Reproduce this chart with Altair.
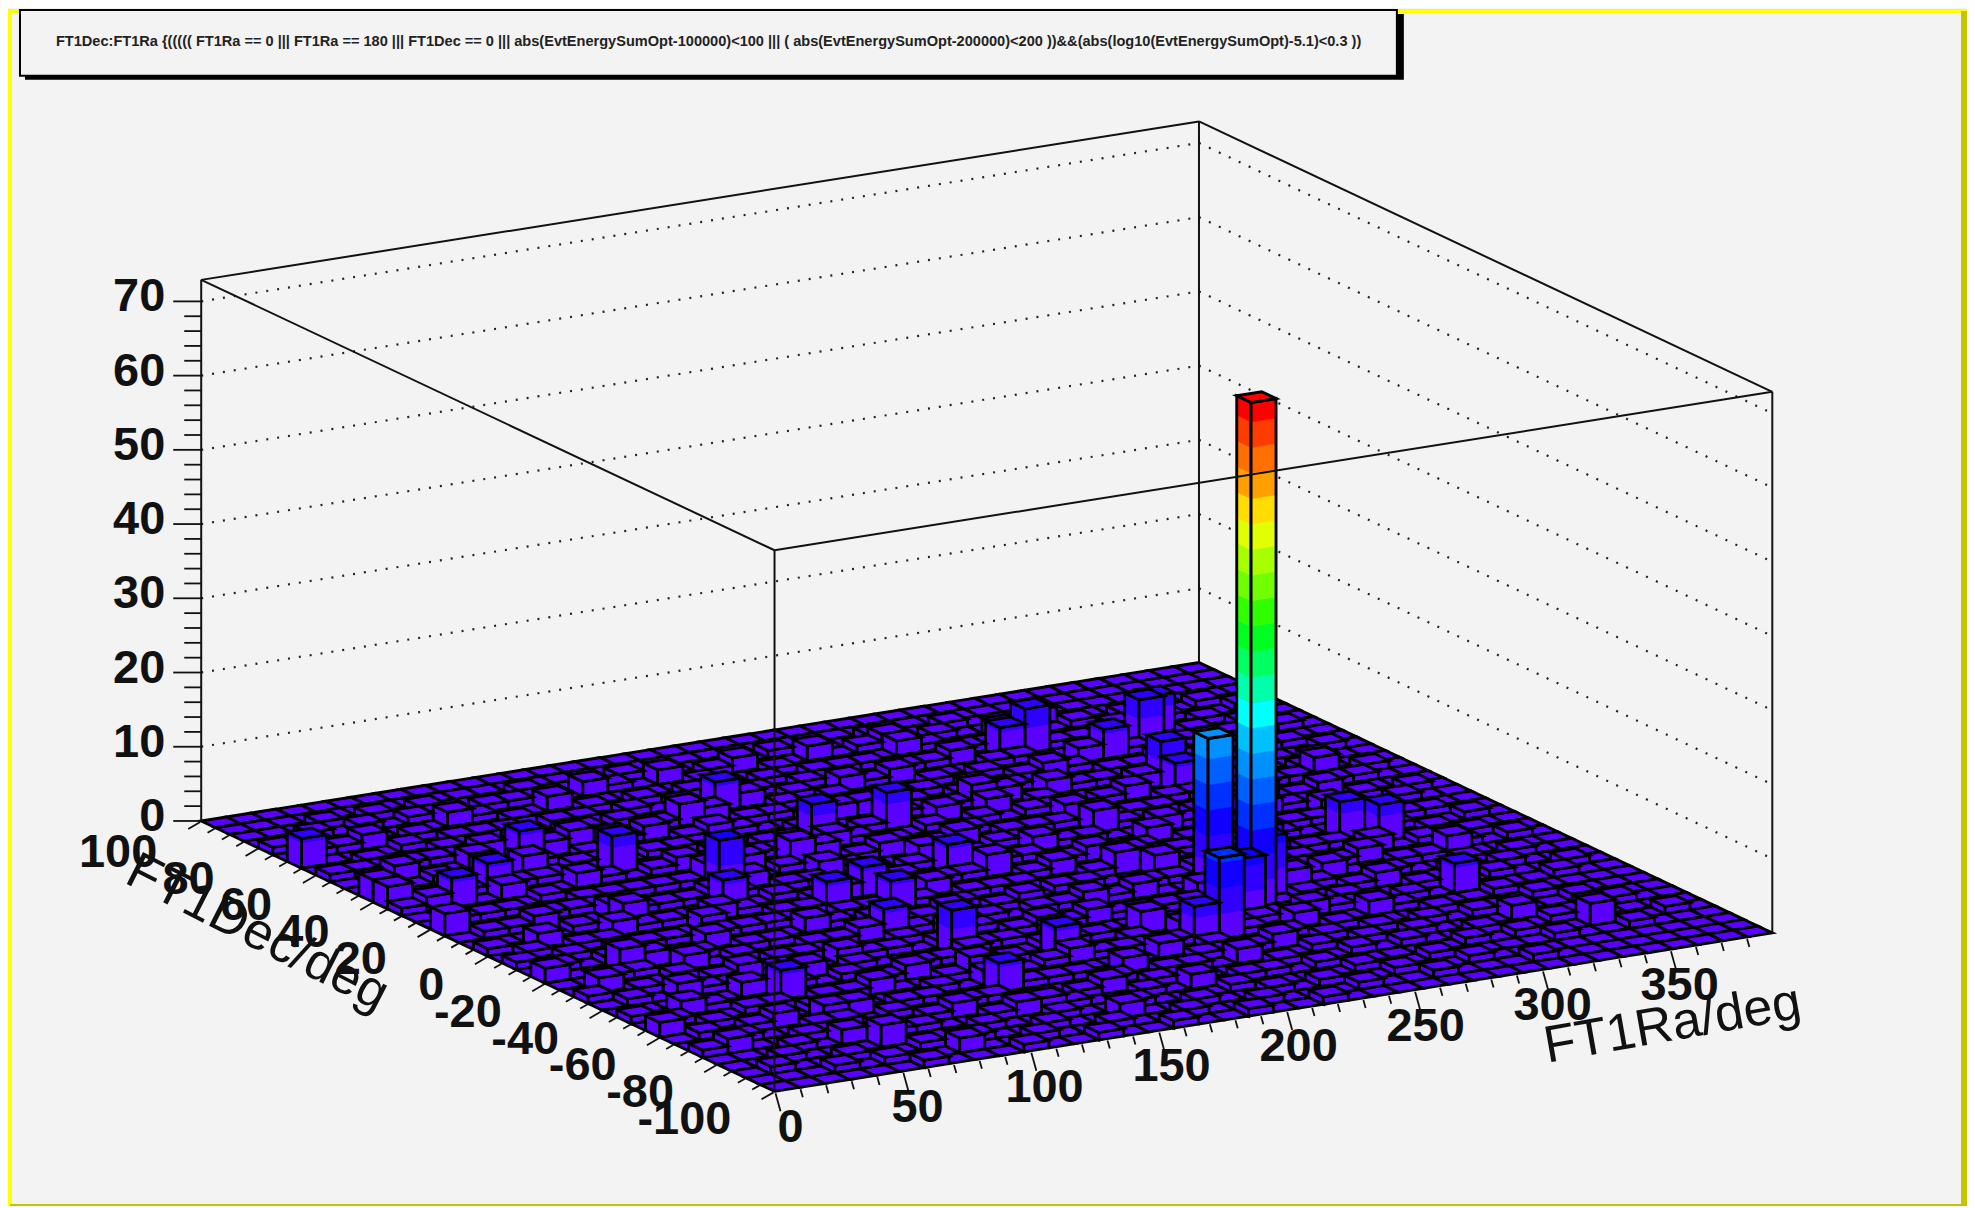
import altair as alt

W, H = 1962, 1199
BG = "#f3f3f3"
OFF = 8

# Histogram: FT1Ra on 0..390 in 40 bins, FT1Dec on -100..100 in 40 bins, counts.
RA_MAX = 390.0
DEC_MIN, DEC_MAX = -100.0, 100.0
NBINS = 40
Z_MAX = 72.9
Z_BAND = 3.44
PALETTE = ["#5a00ff", "#3000ff", "#1000ff", "#0030ff", "#0060ff", "#0090ff", "#00c0ff",
           "#00ffff", "#00ffaa", "#00ff60", "#00ff20", "#30ff00", "#70ff00", "#a8ff00",
           "#e0ff00", "#ffdd00", "#ffa000", "#ff7000", "#ff3c00", "#ff0000"]

# Low counts per Ra bin (row) and Dec bin (character)
LOW_ROWS = [
    "0000010020100100201010020010200102010000",
    "0010020101001020010100101020010100100000",
    "0001001010200101001020101001002010101000",
    "0100100100102001010100201001010100200100",
    "0010010201001010200101010020100101001000",
    "0100201001020101001020010101002010100100",
    "1001001010100200101010201001010201001000",
    "0010100201010101020010101020010101020100",
    "0200101001002010101200101010102001010000",
    "0010010102010010101020101002010100101000",
    "1001020100101201001010201010010201001000",
    "0100101010200101020100101020101001020100",
    "0010201001010102010101020010102010100000",
    "1001010120010010201010100201010101002000",
    "0100100101020101001020101010020100101000",
    "0020010100101020101010020101010201000100",
    "1001020101001010201001010201001010102000",
    "0100101002010101010201001020101020010000",
    "0010010201010200101010102010010101001000",
    "1000201001010101201010020101020010102000",
    "0101001020100201001020101001020101010000",
    "0010100101010102010101002010101020100100",
    "1000102010200101010201010102010010102000",
    "0010010101010102001010201010101020100000",
    "0100100201020100101020101002010101001000",
    "0001001010101020101200101010201001020100",
    "0010010102001010201010010201010102010000",
    "0100001010200101010102010100201010101000",
    "0001010100101020101010201010102010100100",
    "0010001002010101002010101020101001020000",
    "0000100101001020101020010102010201010000",
    "0100010010102001010101020101010101002000",
    "0000100100010102010010201010020101010000",
    "0001000100100010201010102010101020100000",
    "0000010001001010010102010101010102010000",
    "0000100010010100101001020100101010100000",
    "0001000100001001010100101010010101000000",
    "0000001000100100100101001001010010010000",
    "0000100000010001001000100100100100100000",
    "0000000000000000000000000000000000000000",
]

# Taller bins: Ra bin, Dec bin, count
TALL_RA = [26, 26, 23, 25, 22, 27, 28, 29, 28, 33, 34, 31, 31, 36, 33, 34, 17, 21, 26, 31, 16, 17, 20,
           24, 11, 9, 14, 11, 6, 19, 20, 15, 13, 15, 13, 10, 14, 25, 15, 0, 0, 0, 2, 4, 6, 7, 9, 10,
           3, 0, 5, 6, 6, 6, 13, 13, 13, 33, 35, 33, 28, 25, 24, 35]
TALL_DEC = [12, 15, 9, 11, 9, 13, 15, 33, 33, 32, 33, 27, 26, 25, 18, 17, 10, 11, 23, 31, 32, 27, 27,
            28, 23, 27, 12, 24, 21, 21, 20, 20, 19, 18, 15, 21, 31, 36, 25, 33, 27, 28, 26, 27, 28, 30, 30, 29,
            16, 23, 15, 10, 7, 3, 7, 4, 9, 10, 4, 6, 13, 17, 18, 14]
TALL_N = [68, 20, 11, 8, 5, 8, 7, 6, 4, 6, 5, 6, 4, 3, 5, 5, 4, 3, 3, 4, 4, 5, 5,
          3, 7, 5, 6, 3, 3, 4, 3, 4, 4, 4, 4, 4, 3, 2, 3, 4, 3, 3, 4, 4, 3, 4, 3, 3,
          3, 3, 2, 4, 2, 3, 4, 2, 3, 4, 3, 2, 3, 3, 3, 3]

Z_TICKS = [0, 10, 20, 30, 40, 50, 60, 70]
RA_TICKS = [0, 50, 100, 150, 200, 250, 300, 350]
DEC_TICKS = [100, 80, 60, 40, 20, 0, -20, -40, -60, -80, -100]
TITLE = ("FT1Dec:FT1Ra {((((( FT1Ra == 0 ||| FT1Ra == 180 ||| FT1Dec == 0 ||| "
         "abs(EvtEnergySumOpt-100000)<100 ||| ( abs(EvtEnergySumOpt-200000)<200 ))"
         "&&(abs(log10(EvtEnergySumOpt)-5.1)<0.3 ))")

# View: orthographic box, pixels on the page
FX, FY = 775.7 - OFF, 1092.1 - OFF
UX, UY = 999.3, -158.7
VX, VY = -574.2, -270.8
ZU = 7.434
LINE = 2.9


def proj(ra, dec, z=0.0):
    u = ra / RA_MAX
    v = (dec - DEC_MIN) / (DEC_MAX - DEC_MIN)
    return (FX + u * UX + v * VX, FY + u * UY + v * VY - z * ZU)


counts = [[int(c) for c in row] for row in LOW_ROWS]
for i, j, n in zip(TALL_RA, TALL_DEC, TALL_N):
    counts[i][j] = n

DRA = RA_MAX / NBINS
DDEC = (DEC_MAX - DEC_MIN) / NBINS
features = []


def poly(pts, fill, stroke, sw):
    ring = [list(p) for p in pts] + [list(pts[0])]
    features.append({"type": "Feature", "geometry": {"type": "Polygon", "coordinates": [ring]},
                     "properties": {"fill": fill, "stroke": stroke, "sw": sw}})


def band(z):
    return min(int(z / Z_BAND), len(PALETTE) - 1)


def side(a, b, h):
    top = band(h)
    if top == 0:
        poly([proj(*a, 0), proj(*b, 0), proj(*b, h), proj(*a, h)], PALETTE[0], "black", LINE)
        return
    for k in range(top + 1):
        z0, z1 = k * Z_BAND, min((k + 1) * Z_BAND, h)
        if z1 > z0:
            poly([proj(*a, z0), proj(*b, z0), proj(*b, z1), proj(*a, z1)], PALETTE[k], PALETTE[k], 0.6)
    poly([proj(*a, 0), proj(*b, 0), proj(*b, h), proj(*a, h)], "transparent", "black", LINE)


for i in range(NBINS - 1, -1, -1):
    for j in range(NBINS - 1, -1, -1):
        h = counts[i][j]
        r0, r1 = i * DRA, (i + 1) * DRA
        d0, d1 = DEC_MIN + j * DDEC, DEC_MIN + (j + 1) * DDEC
        if h > 0:
            side((r0, d1), (r0, d0), h)
            side((r0, d0), (r1, d0), h)
        poly([proj(r0, d0, h), proj(r1, d0, h), proj(r1, d1, h), proj(r0, d1, h)],
             PALETTE[band(h)], "black", LINE)

lego = (
    alt.Chart(alt.Data(values=features))
    .mark_geoshape()
    .encode(
        fill=alt.Fill("properties.fill:N", scale=None, legend=None),
        stroke=alt.Stroke("properties.stroke:N", scale=None, legend=None),
        strokeWidth=alt.StrokeWidth("properties.sw:Q", scale=None, legend=None),
    )
    .project(type="identity", scale=1, translate=[0, 0])
)

X = alt.X("x:Q", scale=alt.Scale(domain=[0, W], range=[0, W]), axis=None)
Y = alt.Y("y:Q", scale=alt.Scale(domain=[0, H], range=[0, H]), axis=None)


def seg(a, b):
    return {"x": a[0], "y": a[1], "x2": b[0], "y2": b[1]}


def rules(rows, **kw):
    return alt.Chart(alt.Data(values=rows)).mark_rule(**kw).encode(x=X, y=Y, x2="x2:Q", y2="y2:Q")


def rects(rows, **kw):
    return alt.Chart(alt.Data(values=rows)).mark_rect(**kw).encode(x=X, y=Y, x2="x2:Q", y2="y2:Q")


def texts(rows, **kw):
    return alt.Chart(alt.Data(values=rows)).mark_text(**kw).encode(x=X, y=Y, text="t:N")


C = {"F": (0, DEC_MIN), "R": (RA_MAX, DEC_MIN), "L": (0, DEC_MAX), "B": (RA_MAX, DEC_MAX)}

grid = []
for z in Z_TICKS[1:]:
    grid.append(seg(proj(*C["L"], z), proj(*C["B"], z)))
    grid.append(seg(proj(*C["B"], z), proj(*C["R"], z)))

back = [seg(proj(*C["B"], 0), proj(*C["B"], Z_MAX)),
        seg(proj(*C["L"], Z_MAX), proj(*C["B"], Z_MAX)),
        seg(proj(*C["B"], Z_MAX), proj(*C["R"], Z_MAX))]
front = [seg(proj(*C["L"], 0), proj(*C["L"], Z_MAX)),
         seg(proj(*C["F"], 0), proj(*C["F"], Z_MAX)),
         seg(proj(*C["R"], 0), proj(*C["R"], Z_MAX)),
         seg(proj(*C["L"], Z_MAX), proj(*C["F"], Z_MAX)),
         seg(proj(*C["F"], Z_MAX), proj(*C["R"], Z_MAX))]

ticks = []
for z2 in range(0, 72, 2):
    p = proj(*C["L"], z2)
    ticks.append(seg((p[0] - (28 if z2 % 10 == 0 else 17), p[1]), p))
for ra in range(0, 390, 10):
    p = proj(ra, DEC_MIN)
    m = ra % 50 == 0
    ticks.append(seg((p[0] + (1 if m else 0.4), p[1] + 2), (p[0] + (6 if m else 2.7), p[1] + (20 if m else 10))))
for d in range(-100, 101, 5):
    p = proj(0, d)
    m = d % 20 == 0
    ticks.append(seg((p[0] - 1, p[1] + 1), (p[0] - (13 if m else 8), p[1] + (8 if m else 5))))

z_labels = [{"x": proj(*C["L"], z)[0] - 36, "y": proj(*C["L"], z)[1] - 4, "t": str(z)} for z in Z_TICKS]
ra_labels = [{"x": proj(r, DEC_MIN)[0] + 16 - 0.018 * r, "y": proj(r, DEC_MIN)[1] + 37, "t": str(r)} for r in RA_TICKS]
dec_labels = [{"x": 437 - 2.875 * d, "y": 979 - 1.335 * d, "t": str(d)} for d in DEC_TICKS]

FONT = "Liberation Sans"
layers = [
    rects([{"x": 0, "y": 0, "x2": W, "y2": 4}, {"x": 0, "y": 0, "x2": 4, "y2": H}], color="#ffff00"),
    rects([{"x": W - 6, "y": 2, "x2": W, "y2": H}, {"x": 2, "y": H - 2, "x2": W, "y2": H}], color="#c4c400"),
    rules(grid, color="#222222", strokeWidth=2.2, strokeDash=[2, 9]),
    rules(back, color="#111111", strokeWidth=2),
    lego,
    rules(front, color="#111111", strokeWidth=2),
    rules(ticks, color="#111111", strokeWidth=1.8),
    texts(z_labels, font=FONT, fontWeight="bold", fontSize=47, align="right", baseline="middle", color="#111111"),
    texts(ra_labels, font=FONT, fontWeight="bold", fontSize=47, align="center", baseline="middle", color="#111111"),
    texts(dec_labels, font=FONT, fontWeight="bold", fontSize=47, align="right", baseline="middle", color="#111111"),
    texts([{"x": 1675 - OFF, "y": 1025 - OFF, "t": "FT1Ra/deg"}], font=FONT, fontSize=52, angle=350,
          align="center", baseline="middle", color="#111111"),
    texts([{"x": 258 - OFF, "y": 933 - OFF, "t": "FT1Dec/deg"}], font=FONT, fontSize=52, angle=27,
          align="center", baseline="middle", color="#111111"),
    rects([{"x": 17, "y": 5, "x2": 1398, "y2": 71}], color="black"),
    rects([{"x": 12, "y": 1, "x2": 1391, "y2": 67}], fill=BG, stroke="black", strokeWidth=2),
    texts([{"x": 48, "y": 33, "t": TITLE}], font=FONT, fontWeight="bold", fontSize=14.6, align="left",
          baseline="middle", color="#222222"),
]

chart = alt.layer(*layers).properties(
    width=W, height=H, padding=0, background=BG,
    autosize=alt.AutoSizeParams(type="none"),
).configure_view(stroke=None)

chart.save("out.html", embed_options={"renderer": "svg", "actions": False})
